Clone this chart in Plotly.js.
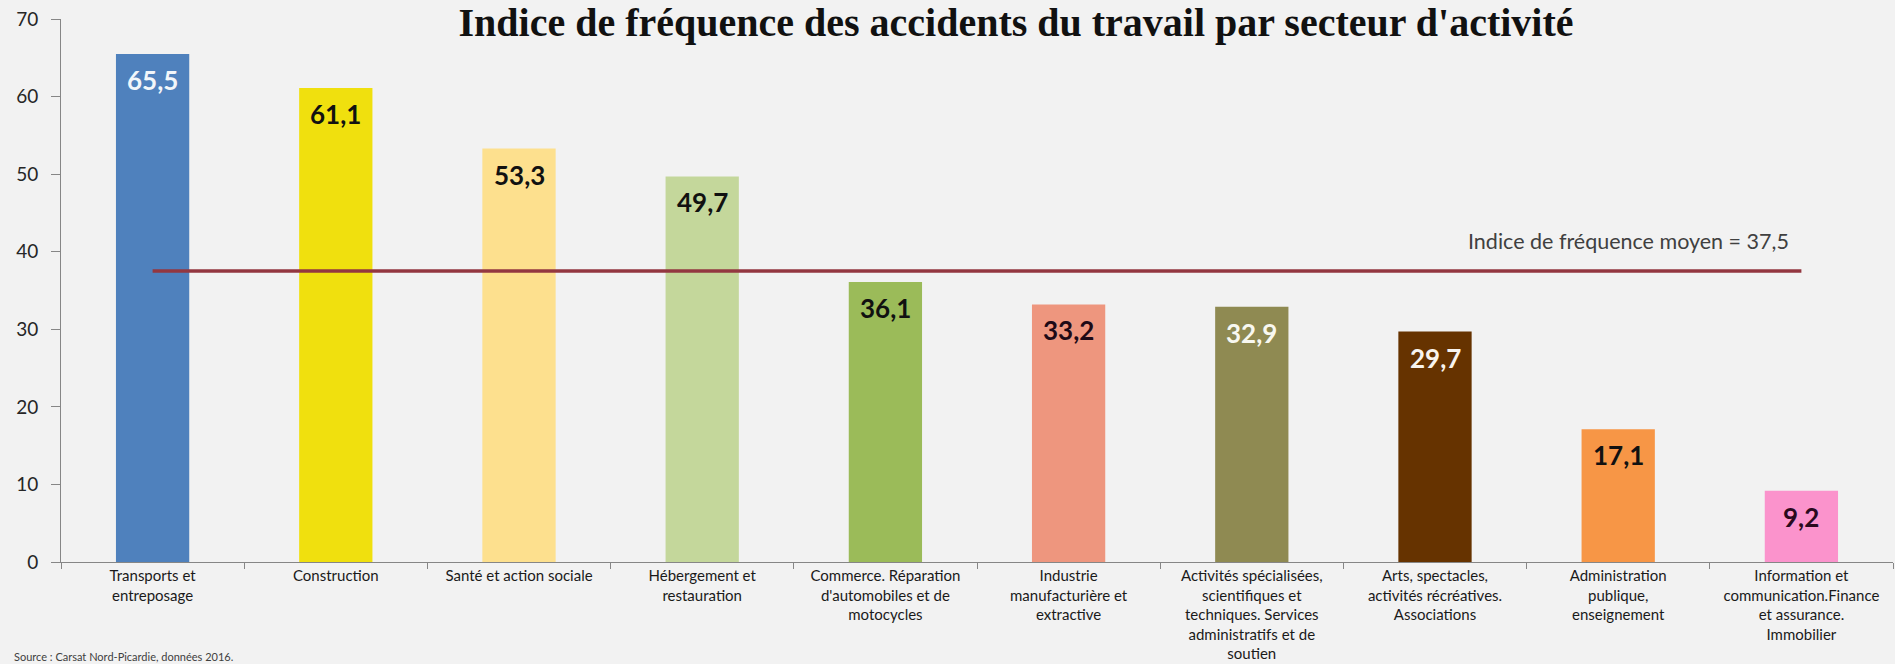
<!DOCTYPE html>
<html>
<head>
<meta charset="utf-8">
<script src="https://cdn.plot.ly/plotly-3.0.1.min.js"></script>
<style>
  html, body { margin: 0; padding: 0; background: #F2F2F2; }
  #chart { width: 1895px; height: 664px; }
</style>
</head>
<body>
<div id="chart"></div>
<script>
// ---- Data ----
const categories = [
  "Transports et<br>entreposage",
  "Construction",
  "Santé et action sociale",
  "Hébergement et<br>restauration",
  "Commerce. Réparation<br>d'automobiles et de<br>motocycles",
  "Industrie<br>manufacturière et<br>extractive",
  "Activités spécialisées,<br>scientifiques et<br>techniques. Services<br>administratifs et de<br>soutien",
  "Arts, spectacles,<br>activités récréatives.<br>Associations",
  "Administration<br>publique,<br>enseignement",
  "Information et<br>communication.Finance<br>et assurance.<br>Immobilier"
];
const values = [65.5, 61.1, 53.3, 49.7, 36.1, 33.2, 32.9, 29.7, 17.1, 9.2];
const barColors = ["#4F81BD", "#F0E00E", "#FDE08E", "#C4D79B", "#9BBB59", "#EE967E", "#8F8A52", "#663300", "#F79646", "#FB93CC"];
const labelColors = ["#F2F6FA", "#111111", "#111111", "#111111", "#111111", "#1E0A16", "#F8F8F0", "#F8F4EE", "#111111", "#2A0A1E"];
const meanValue = 37.5;
const meanLabel = "Indice de fréquence moyen = 37,5";
const yTicks = [0, 10, 20, 30, 40, 50, 60, 70];
const titleText = "Indice de fréquence des accidents du travail par secteur d'activité";
const sourceText = "Source : Carsat Nord-Picardie, données 2016.";

const fmt = v => v.toFixed(1).replace(".", ",");

const barTrace = {
  type: "bar",
  x: categories,
  y: values,
  marker: { color: barColors, line: { width: 0 } },
  hoverinfo: "skip",
  showlegend: false
};

const meanTrace = {
  type: "scatter",
  mode: "lines",
  x: [categories[0], categories[categories.length - 1]],
  y: [meanValue, meanValue],
  line: { color: "#933740", width: 3.5 },
  hoverinfo: "skip",
  showlegend: false
};

const annotations = values.map((v, i) => ({
  x: categories[i],
  y: v,
  xref: "x",
  yref: "y",
  text: "<b>" + fmt(v) + "</b>",
  showarrow: false,
  yanchor: "middle",
  yshift: -26,
  font: { family: "Lato, 'Open Sans', sans-serif", size: 26, color: labelColors[i] }
}));

annotations.push({
  x: categories[categories.length - 1],
  y: meanValue,
  xref: "x",
  yref: "y",
  text: meanLabel,
  showarrow: false,
  xanchor: "right",
  yanchor: "middle",
  xshift: -10,
  yshift: 30,
  font: { family: "Lato, 'Open Sans', sans-serif", size: 21.5, color: "#404040" }
});

annotations.push({
  x: (12 - 61) / 1832,
  y: 0,
  xref: "paper",
  yref: "paper",
  yshift: -94,
  text: sourceText,
  showarrow: false,
  xanchor: "left",
  yanchor: "middle",
  font: { family: "Lato, 'Open Sans', sans-serif", size: 11, color: "#404040" }
});

const layout = {
  width: 1895,
  height: 664,
  paper_bgcolor: "#F2F2F2",
  plot_bgcolor: "#F2F2F2",
  margin: { l: 61, r: 2, t: 19, b: 102, pad: 0 },
  bargap: 0.6,
  title: {
    text: "<b>" + titleText + "</b>",
    font: { family: "'Liberation Serif', serif", size: 40, color: "#111111" },
    x: 1016 / 1895,
    xref: "container",
    xanchor: "center",
    y: 1 - 22 / 664,
    yref: "container",
    yanchor: "middle"
  },
  xaxis: {
    type: "category",
    tickson: "boundaries",
    ticks: "outside",
    ticklen: 6,
    tickcolor: "#868686",
    showline: true,
    linecolor: "#868686",
    linewidth: 1,
    showgrid: false,
    zeroline: false,
    tickangle: 0,
    tickfont: { family: "Lato, 'Open Sans', sans-serif", size: 15, color: "#1A1A1A" },
    fixedrange: true
  },
  yaxis: {
    range: [0, 70],
    tickvals: yTicks,
    ticktext: yTicks.map(String),
    ticks: "outside",
    ticklen: 9,
    tickcolor: "#868686",
    ticklabelstandoff: 9,
    showline: true,
    linecolor: "#868686",
    linewidth: 1,
    showgrid: false,
    zeroline: false,
    tickfont: { family: "Lato, 'Open Sans', sans-serif", size: 19, color: "#262626" },
    fixedrange: true
  },
  annotations: annotations
};

Plotly.newPlot("chart", [barTrace, meanTrace], layout, { staticPlot: true, displayModeBar: false });
</script>
</body>
</html>
